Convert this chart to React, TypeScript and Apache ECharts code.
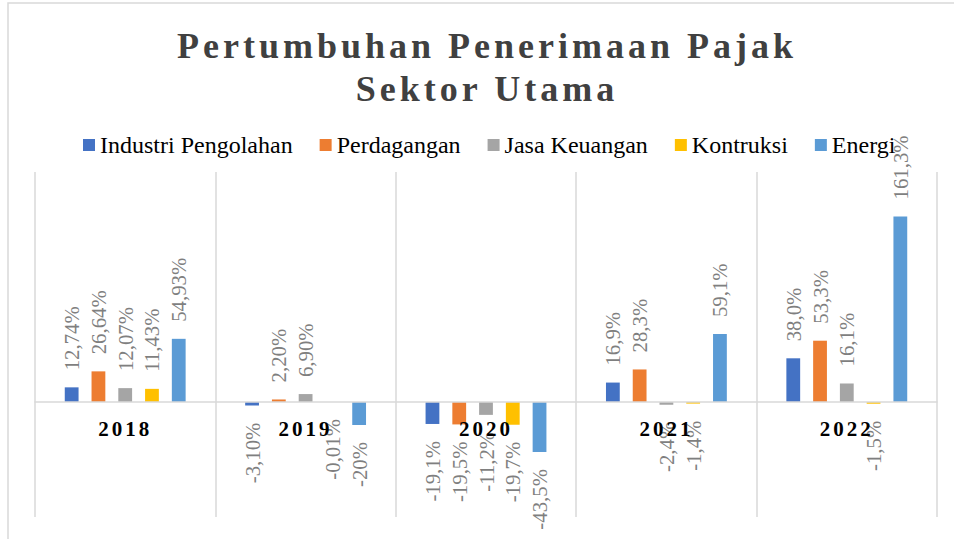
import React, { useEffect, useRef } from "react";
import * as echarts from "echarts";

const categories = ["2018", "2019", "2020", "2021", "2022"];

const industriValues = [12.74, -3.1, -19.1, 16.9, 38.0];
const industriLabels = ["12,74%", "-3,10%", "-19,1%", "16,9%", "38,0%"];

const perdaganganValues = [26.64, 2.2, -19.5, 28.3, 53.3];
const perdaganganLabels = ["26,64%", "2,20%", "-19,5%", "28,3%", "53,3%"];

const jasaValues = [12.07, 6.9, -11.2, -2.4, 16.1];
const jasaLabels = ["12,07%", "6,90%", "-11,2%", "-2,4%", "16,1%"];

const kontruksiValues = [11.43, -0.01, -19.7, -1.4, -1.5];
const kontruksiLabels = ["11,43%", "-0,01%", "-19,7%", "-1,4%", "-1,5%"];

const energiValues = [54.93, -20, -43.5, 59.1, 161.3];
const energiLabels = ["54,93%", "-20%", "-43,5%", "59,1%", "161,3%"];

const seriesNames = ["Industri Pengolahan", "Perdagangan", "Jasa Keuangan", "Kontruksi", "Energi"];
const seriesColors = ["#4472C4", "#ED7D31", "#A5A5A5", "#FFC000", "#5B9BD5"];
const seriesValues = [industriValues, perdaganganValues, jasaValues, kontruksiValues, energiValues];
const seriesLabels = [industriLabels, perdaganganLabels, jasaLabels, kontruksiLabels, energiLabels];

const titleLine1 = "Pertumbuhan Penerimaan Pajak";
const titleLine2 = "Sektor Utama";

const FONT = "Liberation Serif";

export default function App() {
  const ref = useRef<HTMLDivElement>(null);

  useEffect(() => {
    if (!ref.current) return;
    const chart = echarts.init(ref.current, null, { renderer: "svg" });

    const series = seriesNames.map((name, si) => ({
      name,
      type: "bar",
      barGap: "94%",
      barCategoryGap: "33%",
      itemStyle: { color: seriesColors[si] },
      data: seriesValues[si].map((v, i) => ({
        value: v,
        label: {
          show: true,
          position: v < 0 ? "bottom" : "top",
          rotate: 90,
          align: v < 0 ? "right" : "left",
          verticalAlign: "middle",
          distance: 17,
          formatter: seriesLabels[si][i],
          color: "#7f7f7f",
          fontSize: 20.8,
          fontWeight: "normal",
          fontFamily: FONT,
        },
      })),
    }));

    chart.setOption({
      animation: false,
      backgroundColor: "#ffffff",
      textStyle: { fontFamily: FONT },
      graphic: [
        {
          type: "rect",
          z: -10,
          silent: true,
          shape: { x: 8, y: 3, width: 1000, height: 600 },
          style: { fill: "none", stroke: "#d9d9d9", lineWidth: 1.5 },
        },
        {
          type: "text",
          x: 487,
          y: 46,
          style: {
            text: titleLine1,
            fontSize: 36,
            fontWeight: "bold",
            fontFamily: FONT,
            fill: "#404040",
            align: "center",
            verticalAlign: "middle",
          },
        },
        {
          type: "text",
          x: 487,
          y: 89,
          style: {
            text: titleLine2,
            fontSize: 36,
            fontWeight: "bold",
            fontFamily: FONT,
            fill: "#404040",
            align: "center",
            verticalAlign: "middle",
          },
        },
      ],
      legend: {
        data: seriesNames,
        left: 83,
        top: 133,
        padding: 0,
        itemWidth: 12,
        itemHeight: 12,
        itemGap: 27,
        icon: "rect",
        textStyle: { fontSize: 24, fontFamily: FONT, fontWeight: "normal", color: "#000000" },
      },
      grid: { left: 35, right: 17, top: 172, bottom: 22, containLabel: false, outerBoundsMode: "none" },
      xAxis: {
        type: "category",
        data: categories,
        z: 10,
        axisTick: { show: false },
        axisLine: { onZero: true, lineStyle: { color: "#d9d9d9", width: 1.5 } },
        splitLine: { show: true, lineStyle: { color: "#d9d9d9", width: 1.5 } },
        axisLabel: {
          fontSize: 21,
          fontWeight: "bold",
          color: "#000000",
          fontFamily: FONT,
          margin: -99,
          interval: 0,
        },
      },
      yAxis: {
        type: "value",
        min: -100,
        max: 200,
        axisLabel: { show: false },
        axisLine: { show: false },
        axisTick: { show: false },
        splitLine: { show: false },
      },
      series,
    });

    return () => chart.dispose();
  }, []);

  return (
    <>
      <style>{`
        text[style*="36px"] { letter-spacing: 4px; }
        text[style*="bold"][style*="21px"] { letter-spacing: 3px; }
      `}</style>
      <div
        ref={ref}
        style={{ position: "fixed", left: 0, top: 0, width: 954, height: 539 }}
      />
    </>
  );
}
